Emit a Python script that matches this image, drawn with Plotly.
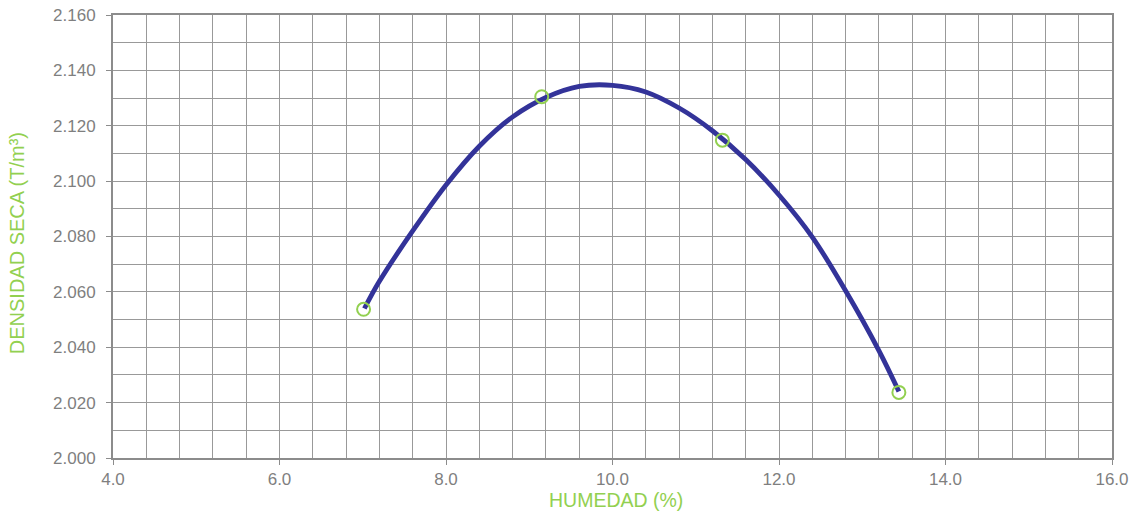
import plotly.graph_objects as go

# ensayo proctor: puntos medidos
humedad = [7.01, 9.15, 11.32, 13.44]
densidad = [2.0537, 2.1305, 2.1148, 2.0237]

# curva de compactacion
curva_x = [7.02, 7.2, 7.6, 8.0, 8.4, 8.8, 9.2, 9.6, 10.0, 10.4, 10.8,
           11.2, 11.6, 12.0, 12.4, 12.8, 13.2, 13.44]
curva_y = [2.0540, 2.0638, 2.0820, 2.0986, 2.1126, 2.1232, 2.1302, 2.1342, 2.1346,
           2.1322, 2.1264, 2.1182, 2.1078, 2.0950, 2.0798, 2.0604, 2.0388, 2.0240]

green = "#92D050"
grey_txt = "#7f7f7f"

fig = go.Figure()
fig.add_trace(go.Scatter(x=curva_x, y=curva_y, mode="lines",
                         line=dict(color="#333399", width=4.8, shape="spline", smoothing=1),
                         showlegend=False, hoverinfo="skip"))
fig.add_trace(go.Scatter(x=humedad, y=densidad, mode="markers",
                         marker=dict(symbol="circle-open", size=13, color=green,
                                     line=dict(width=2, color=green)),
                         showlegend=False))

fig.update_layout(
    width=1130, height=513,
    margin=dict(l=113, r=18, t=15, b=55),
    paper_bgcolor="white", plot_bgcolor="white",
    font=dict(family="Liberation Sans, Arial, sans-serif", color=grey_txt, size=17),
)
fig.update_xaxes(
    range=[4, 16], dtick=2, tickformat=".1f", automargin=False,
    showgrid=True, gridcolor="#999999", gridwidth=1,
    minor=dict(dtick=0.4, showgrid=True, gridcolor="#999999", gridwidth=1),
    showline=True, linecolor="#8c8c8c", linewidth=2, mirror=True,
    ticks="outside", ticklen=5, tickcolor="#8c8c8c", zeroline=False,
)
fig.update_yaxes(
    range=[2.0, 2.16], dtick=0.02, tickformat=".3f", automargin=False,
    showgrid=True, gridcolor="#999999", gridwidth=1,
    minor=dict(dtick=0.01, showgrid=True, gridcolor="#999999", gridwidth=1),
    showline=True, linecolor="#8c8c8c", linewidth=2, mirror=True,
    ticks="outside", ticklen=5, tickcolor="#8c8c8c", zeroline=False,
    ticklabelstandoff=7,
)

# titulos de ejes
fig.add_annotation(text="HUMEDAD (%)", xref="paper", yref="paper", x=0.5035, y=-0.094,
                   showarrow=False, xanchor="center", yanchor="middle",
                   font=dict(color=green, size=19.5))
fig.add_annotation(text="DENSIDAD SECA (T/m³)", xref="paper", yref="paper", x=-0.096, y=0.485,
                   showarrow=False, xanchor="center", yanchor="middle", textangle=-90,
                   font=dict(color=green, size=20))

fig.write_html("out.html", config={"displayModeBar": False},
               post_script="document.body.style.margin='0';")
